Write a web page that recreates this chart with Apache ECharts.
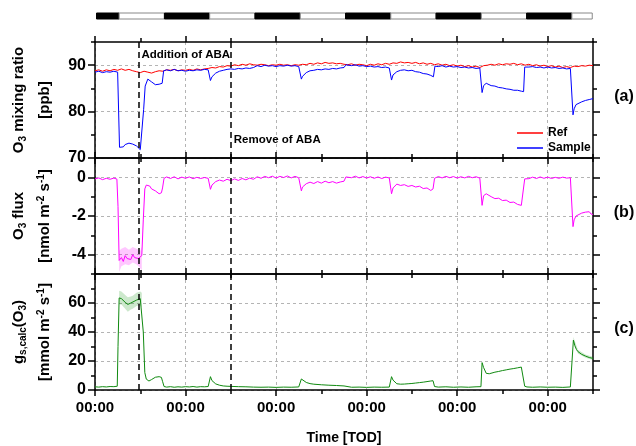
<!DOCTYPE html>
<html><head><meta charset="utf-8">
<script src="https://cdn.jsdelivr.net/npm/echarts@6/dist/echarts.min.js"></script>
<style>html,body{margin:0;padding:0;background:#fff}#c{width:636px;height:446px}</style>
</head><body><div id="c"></div>
<script>
// ---------------- data (hours since start, value) ----------------
const refO3 = [[0,88.8],[1,89.0],[2,88.7],[3,89.0],[4,88.8],[5,89.1],[6,88.9],[7,89.2],[8,88.9],[9,89.1],[10,88.8],[11,88.6],[12,88.4],[13,88.7],[14,88.5],[15,88.3],[16,88.6],[17,88.8],[18,88.7],[19,89.0],[20,88.9],[21,89.1],[22,88.8],[23,89.0],[24,88.9],[25,89.1],[26,88.9],[27,89.2],[28,89.0],[29,89.2],[30,89.3],[31,89.5],[32,89.4],[33,89.7],[34,89.6],[35,89.9],[36,89.8],[37,90.1],[38,89.9],[39,90.2],[40,90.0],[41,90.3],[42,90.1],[43,90.0],[44,90.2],[45,90.1],[46,89.9],[47,90.1],[48,90.0],[49,90.2],[50,90.0],[51,90.1],[52,89.9],[53,90.1],[54,90.0],[55,90.2],[56,90.1],[57,90.4],[58,90.2],[59,90.5],[60,90.3],[61,90.6],[62,90.4],[63,90.5],[64,90.3],[65,90.4],[66,90.2],[67,90.1],[68,90.3],[69,90.0],[70,90.2],[71,90.1],[72,89.9],[73,90.2],[74,90.0],[75,90.3],[76,90.1],[77,90.4],[78,90.2],[79,90.5],[80,90.4],[81,90.7],[82,90.5],[83,90.6],[84,90.4],[85,90.6],[86,90.3],[87,90.5],[88,90.2],[89,90.4],[90,90.1],[91,90.3],[92,90.0],[93,90.2],[94,89.9],[95,90.1],[96,89.8],[97,90.0],[98,89.7],[99,89.9],[100,89.6],[101,89.8],[102,89.5],[103,89.9],[104,90.0],[105,90.2],[106,90.0],[107,90.3],[108,90.1],[109,90.3],[110,90.2],[111,90.4],[112,90.1],[113,90.3],[114,90.0],[115,90.2],[116,89.9],[117,90.1],[118,89.8],[119,90.0],[120,89.7],[121,89.9],[122,89.6],[123,89.8],[124,89.5],[125,89.7],[126,89.5],[127,89.8],[128,89.7],[129,89.9],[130,89.8],[131,90.0],[132,89.9]];

const sampleO3 = [[0,88.5],[1,88.7],[2,88.4],[3,88.6],[4,88.5],[5,88.7],[6,88.5],[6.2,88.3],[6.5,72.3],[7,72.0],[7.5,72.4],[8,72.9],[9,73.2],[9.5,72.9],[10,73.0],[11,72.6],[11.5,72.4],[12,71.8],[12.4,72.2],[12.9,80.5],[13.3,85.5],[14,87.0],[14.5,86.8],[15,86.4],[16,85.8],[17,85.9],[17.8,86.1],[18.2,88.8],[19,89.0],[20,88.8],[21,89.1],[22,88.8],[23,88.9],[24,88.7],[25,88.9],[26,88.8],[27,89.0],[28,88.9],[29,89.1],[30,89.0],[30.3,88.8],[30.6,86.7],[31,87.5],[32,88.3],[33,88.7],[34,88.9],[35,89.1],[36,89.2],[37,89.1],[38,89.3],[39,89.2],[40,89.4],[41,89.3],[42,89.5],[42.5,89.8],[43,89.9],[44,89.7],[45,90.0],[46,89.8],[47,89.9],[48,89.7],[49,89.9],[50,89.8],[51,90.0],[52,89.8],[53,89.9],[54,89.7],[54.4,89.6],[54.7,87.0],[55,87.6],[56,88.4],[57,88.8],[58,88.9],[59,89.1],[60,89.0],[61,89.2],[62,89.1],[63,89.3],[64,89.2],[65,89.4],[66,89.5],[66.5,90.1],[67,90.2],[68,89.9],[69,90.1],[70,89.8],[71,89.9],[72,89.7],[73,89.8],[74,89.6],[75,89.7],[76,89.5],[77,89.6],[78,89.4],[78.3,89.3],[78.6,86.8],[79,87.9],[80,88.6],[81,88.9],[82,89.0],[83,88.8],[84,88.9],[85,88.6],[86,88.5],[87,88.2],[88,88.1],[89,87.8],[89.7,87.5],[90.1,89.8],[91,89.7],[92,89.9],[93,89.6],[94,89.8],[95,89.6],[96,89.7],[97,89.5],[98,89.6],[99,89.4],[100,89.5],[101,89.3],[102,89.4],[102.3,89.2],[102.6,84.1],[103,85.6],[103.7,86.1],[104,86.0],[105,85.6],[106,85.5],[107,85.2],[108,85.1],[109,84.9],[110,84.8],[111,84.6],[112,84.6],[113,84.4],[113.6,84.3],[113.9,89.6],[114,89.8],[115,89.6],[116,89.7],[117,89.5],[118,89.6],[119,89.4],[120,89.6],[121,89.4],[122,89.5],[123,89.3],[124,89.4],[125,89.2],[126,89.3],[126.4,89.1],[126.7,79.3],[127,80.6],[127.5,81.5],[128,81.8],[129,82.1],[130,82.4],[131,82.6],[132,82.8]];

const o3Flux = [[0,-0.08],[1,-0.03],[2,-0.12],[3,-0.05],[4,-0.1],[5,-0.04],[5.8,-0.09],[6.1,-1.5],[6.4,-4.3],[7,-4.15],[7.5,-4.35],[8,-4.05],[8.5,-4.2],[9,-4.1],[9.5,-4.25],[10,-4.0],[10.5,-4.15],[11,-4.1],[11.5,-4.2],[12,-4.3],[12.4,-4.05],[12.8,-2.2],[13.2,-0.6],[13.6,-0.4],[14,-0.5],[14.5,-0.45],[15,-0.6],[15.5,-0.55],[16,-0.7],[16.5,-0.75],[17,-0.85],[17.6,-0.8],[17.9,-0.55],[18.3,-0.05],[19,0.02],[20,-0.06],[21,0.03],[22,-0.08],[23,0.01],[24,-0.05],[25,0.02],[26,-0.07],[27,0.0],[28,-0.06],[29,-0.01],[30,-0.05],[30.3,-0.08],[30.6,-0.62],[31,-0.4],[32,-0.22],[33,-0.14],[34,-0.2],[35,-0.1],[36,-0.17],[37,-0.08],[38,-0.16],[39,-0.06],[40,-0.13],[41,-0.04],[42,-0.1],[43,0.03],[44,-0.05],[45,0.05],[46,-0.02],[47,0.06],[48,-0.04],[49,0.05],[50,-0.01],[51,0.07],[52,-0.03],[53,0.05],[54,-0.02],[54.4,-0.05],[54.7,-0.7],[55,-0.5],[56,-0.33],[57,-0.25],[58,-0.32],[59,-0.22],[60,-0.3],[61,-0.2],[62,-0.28],[63,-0.22],[64,-0.3],[65,-0.24],[66,-0.2],[66.5,0.02],[67,0.05],[68,-0.02],[69,0.06],[70,-0.03],[71,0.04],[72,-0.04],[73,0.03],[74,-0.05],[75,0.02],[76,-0.06],[77,0.01],[78,-0.03],[78.3,-0.05],[78.6,-0.85],[79,-0.55],[80,-0.35],[81,-0.42],[82,-0.38],[83,-0.47],[84,-0.42],[85,-0.5],[86,-0.46],[87,-0.58],[88,-0.55],[89,-0.68],[89.6,-0.6],[90,-0.05],[91,0.04],[92,-0.03],[93,0.05],[94,-0.02],[95,0.04],[96,-0.04],[97,0.03],[98,-0.03],[99,0.05],[100,-0.02],[101,0.03],[102,-0.04],[102.3,-0.06],[102.6,-1.45],[103,-0.95],[103.7,-0.85],[104,-0.95],[105,-1.0],[106,-1.1],[107,-1.08],[108,-1.2],[109,-1.18],[110,-1.3],[111,-1.28],[112,-1.4],[113,-1.45],[113.5,-1.5],[113.9,-0.08],[114,-0.02],[115,-0.07],[116,0.01],[117,-0.06],[118,0.02],[119,-0.05],[120,0.01],[121,-0.06],[122,0.0],[123,-0.05],[124,0.01],[125,-0.04],[126,-0.02],[126.4,-0.05],[126.7,-2.55],[127,-2.2],[127.5,-2.0],[128,-1.9],[129,-1.85],[129.5,-1.75],[130,-1.8],[131,-1.78],[131.5,-1.9],[132,-1.92]];

const o3FluxBand = [[6.4,-4.9,-3.8],[7,-4.6,-3.7],[8,-4.5,-3.6],[9,-4.55,-3.75],[10,-4.4,-3.6],[11,-4.5,-3.7],[12,-4.7,-3.8],[12.4,-4.8,-3.6]];

const gsCalc = [[0,2.2],[1,2.0],[2,2.3],[3,2.1],[4,2.4],[5,2.3],[5.9,2.6],[6.1,30],[6.4,63.5],[7,63],[7.5,62],[8,60.5],[8.7,59],[9.5,60],[10,60.5],[11,62],[12,63],[12.4,62],[12.8,40],[13.2,12],[13.6,7.5],[14.3,6.2],[15,7.2],[16,8.8],[16.5,9.5],[17,9.2],[17.6,8.7],[17.9,6],[18.3,2.4],[19,2.0],[20,2.3],[21,1.9],[22,2.2],[23,2.0],[24,2.3],[25,2.1],[26,2.4],[27,2.0],[28,2.3],[29,2.2],[30,2.4],[30.3,2.6],[30.6,9.2],[31,6.5],[32,4.2],[33,3.3],[34,2.8],[35,2.6],[36,2.5],[38,2.3],[40,2.2],[42,2.0],[44,1.9],[46,2.0],[48,1.8],[50,2.0],[52,1.9],[54,2.1],[54.4,2.3],[54.7,7.6],[55,6.6],[56,5.2],[57,4.4],[58,4.0],[60,3.6],[62,3.3],[64,3.1],[66,2.8],[66.5,2.1],[68,1.9],[70,2.0],[72,1.8],[74,2.0],[76,1.9],[78,2.0],[78.3,2.2],[78.6,9.2],[79,6.8],[80,4.3],[81,4.0],[82,4.1],[83,4.3],[84,4.5],[85,4.8],[86,5.1],[87,5.4],[88,5.8],[89,6.2],[89.6,6.4],[90,2.4],[91,2.0],[93,2.2],[95,1.9],[97,2.1],[99,1.9],[101,2.2],[102.3,2.3],[102.6,18.9],[103,15.5],[103.7,11.5],[104.5,11.2],[105,11.6],[106,12.3],[107,12.8],[108,13.4],[109,13.9],[110,14.4],[111,14.8],[112,15.3],[113,15.8],[113.5,16.1],[113.9,2.6],[114.5,2.1],[116,1.9],[118,2.1],[120,1.9],[122,2.0],[124,1.8],[126,2.1],[126.4,2.3],[126.8,34.4],[127.2,30.5],[127.6,28],[128,26.5],[129,24.6],[130,23.4],[131,22.4],[132,21.8]];

const gsBand1 = [[6.4,59,68.5],[7,59,68],[8,56,65.5],[8.7,54,64],[9.5,55.5,64.5],[10,56,65],[11,58,67],[12,58.5,68],[12.4,57,67]];
const gsBand2 = [[126.8,32.5,36.5],[128,25.2,27.8],[130,22.3,24.5],[132,20.7,22.9]];

// photoperiod: [start h, end h, dark(1)/light(0)]
const photoperiod = [[0.4,6.4,1],[6.4,18.4,0],[18.4,30.4,1],[30.4,42.4,0],[42.4,54.4,1],[54.4,66.4,0],[66.4,78.4,1],[78.4,90.4,0],[90.4,102.4,1],[102.4,114.4,0],[114.4,126.4,1],[126.4,131.8,0]];

const abaEvents = [11.5, 36];
const abaLabels = ['Addition of ABA', 'Remove of ABA'];
const abaLabelY = [92.2, 73.9];

const xTickHours = [0, 24, 48, 72, 96, 120];
const xTickText = ['00:00','00:00','00:00','00:00','00:00','00:00'];
const yTicksA = [70, 80, 90];
const yTicksB = [-4, -2, 0];
const yTicksC = [0, 20, 40, 60];
const panelLetters = ['(a)', '(b)', '(c)'];

// ---------------- layout ----------------
const L = 95, W = 498;
const panels = [
  {top: 42, height: 116, min: 70, max: 95, minor: 5, ticks: yTicksA},
  {top: 158, height: 116, min: -5, max: 1, minor: 1, ticks: yTicksB},
  {top: 274, height: 116, min: 0, max: 80, minor: 10, ticks: yTicksC}
];
const FONT = 'Liberation Sans, Arial, sans-serif';
const AX = {color: '#000', width: 1.5};
const split = {show: true, lineStyle: {color: '#b4b4b4', type: [3, 3], width: 1}};

const grid = panels.map(p => ({left: L, width: W, top: p.top, height: p.height}));
grid.push({left: L, width: W, top: 13, height: 6});

const xAxis = [], yAxis = [];
panels.forEach((p, i) => {
  const base = {type: 'value', gridIndex: i, min: 0, max: 132};
  xAxis.push(Object.assign({}, base, {position: 'bottom',
    axisLine: {show: true, onZero: false, lineStyle: AX},
    axisTick: {show: true, inside: false, length: 6, customValues: xTickHours, lineStyle: AX},
    axisLabel: {show: i === 2, customValues: xTickHours, margin: 10,
      formatter: v => xTickText[xTickHours.indexOf(v)] || '',
      fontFamily: FONT, fontWeight: 'bold', fontSize: 15, color: '#000'},
    splitLine: split,
    name: i === 2 ? 'Time [TOD]' : '', nameLocation: 'middle', nameGap: 41,
    nameTextStyle: {fontFamily: FONT, fontWeight: 'bold', fontSize: 14, color: '#000'}}));
  xAxis.push(Object.assign({}, base, {position: 'bottom', interval: 12,
    axisLine: {show: false, onZero: false}, axisTick: {show: true, length: 4, lineStyle: AX},
    axisLabel: {show: false}, splitLine: {show: false}}));
  xAxis.push(Object.assign({}, base, {position: 'top',
    axisLine: {show: true, onZero: false, lineStyle: AX},
    axisTick: {show: true, length: 6, customValues: xTickHours, lineStyle: AX},
    axisLabel: {show: false}, splitLine: {show: false}}));
  xAxis.push(Object.assign({}, base, {position: 'top', interval: 12,
    axisLine: {show: false, onZero: false}, axisTick: {show: true, length: 4, lineStyle: AX},
    axisLabel: {show: false}, splitLine: {show: false}}));

  const yb = {type: 'value', gridIndex: i, min: p.min, max: p.max};
  yAxis.push(Object.assign({}, yb, {position: 'left',
    axisLine: {show: true, onZero: false, lineStyle: AX},
    axisTick: {show: true, length: 7, customValues: p.ticks, lineStyle: AX},
    axisLabel: {show: true, customValues: p.ticks, margin: 9,
      fontFamily: FONT, fontWeight: 'bold', fontSize: 16, color: '#000'},
    splitLine: split}));
  yAxis.push(Object.assign({}, yb, {position: 'left', interval: p.minor,
    axisLine: {show: false, onZero: false}, axisTick: {show: true, length: 4, lineStyle: AX},
    axisLabel: {show: false}, splitLine: {show: false}}));
  yAxis.push(Object.assign({}, yb, {position: 'right',
    axisLine: {show: true, onZero: false, lineStyle: AX},
    axisTick: {show: true, length: 7, customValues: p.ticks, lineStyle: AX},
    axisLabel: {show: false}, splitLine: {show: false}}));
  yAxis.push(Object.assign({}, yb, {position: 'right', interval: p.minor,
    axisLine: {show: false, onZero: false}, axisTick: {show: true, length: 4, lineStyle: AX},
    axisLabel: {show: false}, splitLine: {show: false}}));
});
xAxis.push({type: 'value', gridIndex: 3, min: 0, max: 132, show: false});
yAxis.push({type: 'value', gridIndex: 3, min: 0, max: 1, show: false});

const abaMarkLine = {
  silent: true, symbol: ['none', 'none'], label: {show: false},
  lineStyle: {color: '#000', type: [6, 4], width: 1.5},
  data: abaEvents.map(h => ({xAxis: h}))
};

function band(data, pi, color) {
  return {
    type: 'custom', xAxisIndex: pi * 4, yAxisIndex: pi * 4, data: data, silent: true, z: 1,
    encode: {x: 0, y: [1, 2]},
    renderItem: function (params, api) {
      if (params.dataIndex !== 0) return null;
      const top = data.map(d => api.coord([d[0], d[2]]));
      const bot = data.map(d => api.coord([d[0], d[1]])).reverse();
      return {type: 'polygon', shape: {points: top.concat(bot)}, style: {fill: color}};
    }
  };
}

const series = [
  {name: 'Ref', type: 'line', xAxisIndex: 0, yAxisIndex: 0, data: refO3, symbol: 'none',
   lineStyle: {color: '#ff0000', width: 1}, itemStyle: {color: '#ff0000'}, z: 3, markLine: abaMarkLine},
  {name: 'Sample', type: 'line', xAxisIndex: 0, yAxisIndex: 0, data: sampleO3, symbol: 'none',
   lineStyle: {color: '#0000ff', width: 1}, itemStyle: {color: '#0000ff'}, z: 4},
  band(o3FluxBand, 1, 'rgba(255,0,255,0.22)'),
  {name: 'flux', type: 'line', xAxisIndex: 4, yAxisIndex: 4, data: o3Flux, symbol: 'none',
   lineStyle: {color: '#ff00ff', width: 1}, z: 3, markLine: abaMarkLine},
  band(gsBand1, 2, 'rgba(0,140,0,0.2)'),
  band(gsBand2, 2, 'rgba(0,140,0,0.2)'),
  {name: 'gs', type: 'line', xAxisIndex: 8, yAxisIndex: 8, data: gsCalc, symbol: 'none',
   lineStyle: {color: '#108a10', width: 1}, z: 3, markLine: abaMarkLine},
  {type: 'custom', xAxisIndex: 12, yAxisIndex: 12, data: photoperiod, silent: true,
   encode: {x: [0, 1]},
   renderItem: function (params, api) {
     const a = api.coord([api.value(0), 1]);
     const b = api.coord([api.value(1), 0]);
     const dark = api.value(2) === 1;
     return {type: 'rect', shape: {x: a[0], y: a[1], width: b[0] - a[0], height: b[1] - a[1]},
       style: {fill: dark ? '#000' : '#fff', stroke: dark ? '#000' : '#888', lineWidth: 1}};
   }}
];

const chart = echarts.init(document.getElementById('c'), null, {width: 636, height: 446});
chart.setOption({
  animation: false,
  backgroundColor: '#fff',
  grid: grid, xAxis: xAxis, yAxis: yAxis, series: series,
  legend: {data: ['Ref', 'Sample'], orient: 'vertical', left: 512, top: 121,
    icon: 'rect', itemWidth: 26, itemHeight: 1.5, itemGap: 1,
    textStyle: {fontFamily: FONT, fontWeight: 'bold', fontSize: 12, color: '#000', lineHeight: 14}}
});

// titles & annotations
const tFont = {fontFamily: FONT, fontWeight: 'bold', fill: '#000'};
const rich = {
  n: {fontFamily: FONT, fontWeight: 'bold', fontSize: 15, lineHeight: 18, color: '#000'},
  sub: {fontFamily: FONT, fontWeight: 'bold', fontSize: 10, lineHeight: 8, verticalAlign: 'bottom', color: '#000'},
  sup: {fontFamily: FONT, fontWeight: 'bold', fontSize: 10, lineHeight: 8, verticalAlign: 'top', color: '#000'}
};
function vtext(x, y, text) {
  return {type: 'text', x: x, y: y, rotation: Math.PI / 2, silent: true,
    style: {text: text, rich: rich, align: 'center', verticalAlign: 'middle'}};
}
const centers = panels.map(p => p.top + p.height / 2);
const graphics = [
  vtext(19, centers[0], '{n|O}{sub|3}{n| mixing ratio}'),
  vtext(45, centers[0], '{n|[ppb]}'),
  vtext(19, centers[1], '{n|O}{sub|3}{n| flux}'),
  vtext(45, centers[1], '{n|[nmol m}{sup|-2}{n| s}{sup|-1}{n|]}'),
  vtext(19, centers[2], '{n|g}{sub|s,calc}{n|(O}{sub|3}{n|)}'),
  vtext(45, centers[2], '{n|[mmol m}{sup|-2}{n| s}{sup|-1}{n|]}')
];
panelLetters.forEach((t, i) => {
  graphics.push({type: 'text', x: 624, y: centers[i] - 3, silent: true,
    style: Object.assign({text: t, fontSize: 16, align: 'center', verticalAlign: 'middle'}, tFont)});
});
abaEvents.forEach((h, i) => {
  const p = chart.convertToPixel({xAxisIndex: 0, yAxisIndex: 0}, [h, abaLabelY[i]]);
  graphics.push({type: 'text', x: p[0] + 3, y: p[1], silent: true, z: 10,
    style: Object.assign({text: abaLabels[i], fontSize: 11.5, align: 'left', verticalAlign: 'middle'}, tFont)});
});
chart.setOption({graphic: graphics});
</script>
</body></html>
